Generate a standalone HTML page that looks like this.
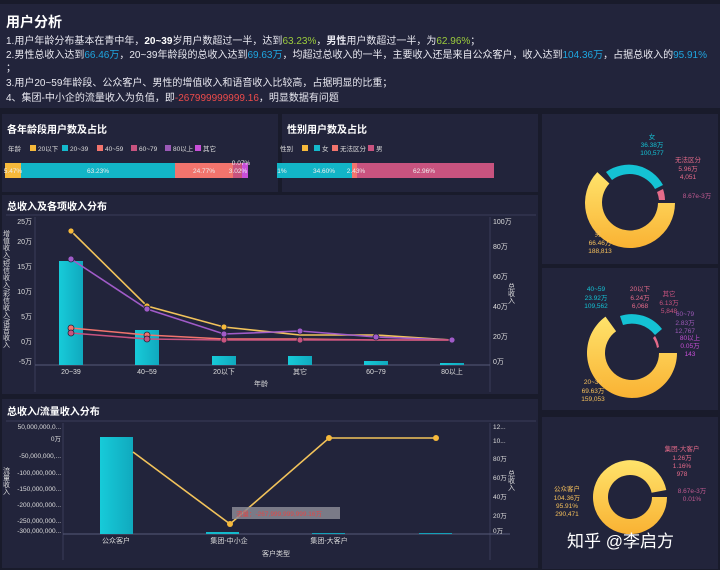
<!DOCTYPE html>
<html><head><meta charset="utf-8">
<style>
body{margin:0;width:720px;height:570px;background:#191b2b;overflow:hidden;font-family:"Liberation Sans","Noto Sans CJK SC",sans-serif;color:#e8e8f0;position:relative}
.p{position:absolute;background:#22243b}
.t{position:absolute;font-size:10px;font-weight:bold;color:#fff}
.hl{position:absolute;left:6px;font-size:10px;color:#e8e8f0;white-space:nowrap}
.g{color:#9ccc3c}.b{color:#1fa6e0}.r{color:#ee4b4b}
svg{position:absolute;left:0;top:0}
</style></head><body>
<div class="p" style="left:0;top:4px;width:720px;height:104px"></div>
<div class="t" style="left:6px;top:12px;font-size:14px">用户分析</div>
<div class="hl" style="top:32px">1.用户年龄分布基本在青中年，<b class="g"><span style="color:#fff">20~39</span></b>岁用户数超过一半，达到<span class="g">63.23%</span>，<b>男性</b>用户数超过一半，为<span class="g">62.96%</span>；</div>
<div class="hl" style="top:46px">2.男性总收入达到<span class="b">66.46万</span>，20~39年龄段的总收入达到<span class="b">69.63万</span>，均超过总收入的一半，主要收入还是来自公众客户，收入达到<span class="b">104.36万</span>，占据总收入的<span class="b">95.91%</span></div>
<div class="hl" style="top:59px">；</div>
<div class="hl" style="top:74px">3.用户20~59年龄段、公众客户、男性的增值收入和语音收入比较高，占据明显的比重；</div>
<div class="hl" style="top:89px">4、集团-中小企的流量收入为负值，即<span class="r">-267999999999.16</span>，明显数据有问题</div>

<div class="p" style="left:2px;top:114px;width:276px;height:78px"></div>
<div class="p" style="left:282px;top:114px;width:256px;height:78px"></div>
<div class="p" style="left:542px;top:114px;width:176px;height:150px"></div>
<div class="p" style="left:542px;top:268px;width:176px;height:142px"></div>
<div class="p" style="left:542px;top:417px;width:176px;height:152px"></div>
<div class="p" style="left:2px;top:195px;width:536px;height:199px"></div>
<div class="p" style="left:2px;top:399px;width:536px;height:169px"></div>

<div class="t" style="left:7px;top:121px">各年龄段用户数及占比</div>
<div class="t" style="left:287px;top:121px">性别用户数及占比</div>
<div class="t" style="left:7px;top:198px">总收入及各项收入分布</div>
<div class="t" style="left:7px;top:403px">总收入/流量收入分布</div>

<svg width="720" height="570" font-family="Liberation Sans, Noto Sans CJK SC, sans-serif">
<!-- legends -->
<g font-size="6.5" fill="#ddd">
<text x="8" y="151">年龄</text>
<rect x="30" y="145" width="6" height="6" fill="#f6b93b"/><text x="38" y="151">20以下</text>
<rect x="62" y="145" width="6" height="6" fill="#14b9cc"/><text x="70" y="151">20~39</text>
<rect x="97" y="145" width="6" height="6" fill="#f2746d"/><text x="105" y="151">40~59</text>
<rect x="131" y="145" width="6" height="6" fill="#c8537f"/><text x="139" y="151">60~79</text>
<rect x="165" y="145" width="6" height="6" fill="#9b59b6"/><text x="173" y="151">80以上</text>
<rect x="195" y="145" width="6" height="6" fill="#c84fd8"/><text x="203" y="151">其它</text>
<text x="280" y="151">性别</text>
<rect x="302" y="145" width="6" height="6" fill="#f6b93b"/>
<rect x="314" y="145" width="6" height="6" fill="#14b9cc"/><text x="322" y="151">女</text>
<rect x="332" y="145" width="6" height="6" fill="#f2746d"/><text x="340" y="151">无法区分</text>
<rect x="368" y="145" width="6" height="6" fill="#c8537f"/><text x="376" y="151">男</text>
</g>
<!-- age bar -->
<rect x="5" y="163" width="16" height="15" fill="#f6b93b"/>
<rect x="21" y="163" width="154" height="15" fill="#12b5c7"/>
<rect x="175" y="163" width="58" height="15" fill="#f2746d"/>
<rect x="233" y="163" width="9" height="15" fill="#c8537f"/>
<rect x="242" y="163" width="6" height="15" fill="#c84fd8"/>
<g font-size="6.5" fill="#eee" text-anchor="middle">
<text x="13" y="173">5.47%</text><text x="98" y="173">63.23%</text><text x="204" y="173">24.77%</text><text x="238" y="173">3.02%</text><text x="241" y="165">0.07%</text>
</g>
<!-- gender bar -->
<rect x="277" y="163" width="75" height="15" fill="#12b5c7"/>
<rect x="352" y="163" width="5" height="15" fill="#f2746d"/>
<rect x="357" y="163" width="137" height="15" fill="#c8537f"/>
<g font-size="6.5" fill="#eee" text-anchor="middle">
<text x="282" y="173">1%</text><text x="324" y="173">34.60%</text><text x="356" y="173">2.43%</text><text x="424" y="173">62.96%</text>
</g>

<defs><linearGradient id="yg" x1="0" y1="0" x2="0" y2="1"><stop offset="0" stop-color="#ffe36b"/><stop offset="1" stop-color="#f9b233"/></linearGradient>
<linearGradient id="cb" x1="0" y1="0" x2="1" y2="0"><stop offset="0" stop-color="#17cbd9"/><stop offset="1" stop-color="#10a9be"/></linearGradient></defs>

<!-- income chart -->
<line x1="6" y1="215" x2="536" y2="215" stroke="#3a3d58"/>
<line x1="35" y1="217" x2="35" y2="392" stroke="#3a3d58"/>
<line x1="490" y1="217" x2="490" y2="392" stroke="#3a3d58"/>
<line x1="35" y1="365" x2="490" y2="365" stroke="#555a78"/>
<g font-size="7" fill="#ddd" text-anchor="end">
<text x="32" y="224">25万</text><text x="32" y="244">20万</text><text x="32" y="269">15万</text><text x="32" y="294">10万</text><text x="32" y="319">5万</text><text x="32" y="344">0万</text><text x="32" y="364">-5万</text>
</g>
<g font-size="7" fill="#ddd">
<text x="493" y="224">100万</text><text x="493" y="249">80万</text><text x="493" y="279">60万</text><text x="493" y="309">40万</text><text x="493" y="339">20万</text><text x="493" y="364">0万</text>
</g>
<g font-size="7" fill="#ddd"><text x="6" y="230" writing-mode="tb">增值收入/短信收入/彩信收入/语音收入</text><text x="511" y="283" writing-mode="tb">总收入</text></g>
<rect x="59" y="261" width="24" height="104" fill="url(#cb)"/>
<rect x="135" y="330" width="24" height="35" fill="url(#cb)"/>
<rect x="212" y="356" width="24" height="9" fill="url(#cb)"/>
<rect x="288" y="356" width="24" height="9" fill="url(#cb)"/>
<rect x="364" y="361" width="24" height="4" fill="url(#cb)"/>
<rect x="440" y="363" width="24" height="2" fill="url(#cb)"/>
<g fill="none" stroke-width="1.6">
<polyline stroke="#f2c35b" points="71,231 147,306 224,327 300,335 376,335 452,340"/>
<polyline stroke="#a05bc8" points="71,259 147,309 224,334 300,331 376,337 452,340"/>
<polyline stroke="#f2746d" points="71,328 147,335 224,339 300,339 376,340 452,340"/>
<polyline stroke="#c8537f" points="71,333 147,339 224,340 300,340 376,340 452,340"/>
</g>
<g stroke="#22243b" stroke-width="0.8">
<circle cx="71" cy="231" r="3" fill="#f6b93b"/><circle cx="147" cy="306" r="3" fill="#f6b93b"/><circle cx="224" cy="327" r="3" fill="#f6b93b"/>
<circle cx="71" cy="259" r="3" fill="#a05bc8"/><circle cx="147" cy="309" r="3" fill="#a05bc8"/><circle cx="224" cy="334" r="3" fill="#a05bc8"/><circle cx="300" cy="331" r="3" fill="#a05bc8"/><circle cx="376" cy="337" r="3" fill="#a05bc8"/><circle cx="452" cy="340" r="3" fill="#a05bc8"/>
<circle cx="71" cy="328" r="3" fill="#f2746d"/><circle cx="147" cy="335" r="3" fill="#f2746d"/><circle cx="71" cy="333" r="3" fill="#c8537f"/><circle cx="147" cy="339" r="3" fill="#c8537f"/><circle cx="224" cy="340" r="3" fill="#c8537f"/><circle cx="300" cy="340" r="3" fill="#c8537f"/>
</g>
<g font-size="7" fill="#ddd" text-anchor="middle">
<text x="71" y="374">20~39</text><text x="147" y="374">40~59</text><text x="224" y="374">20以下</text><text x="300" y="374">其它</text><text x="376" y="374">60~79</text><text x="452" y="374">80以上</text><text x="261" y="386">年龄</text>
</g>

<!-- bottom chart -->
<line x1="6" y1="421" x2="536" y2="421" stroke="#3a3d58"/>
<line x1="63" y1="423" x2="63" y2="560" stroke="#3a3d58"/>
<line x1="490" y1="423" x2="490" y2="560" stroke="#3a3d58"/>
<line x1="63" y1="534" x2="510" y2="534" stroke="#555a78"/>
<g font-size="6.5" fill="#ddd" text-anchor="end">
<text x="61" y="429">50,000,000,0...</text><text x="61" y="441">0万</text><text x="61" y="458">-50,000,000,...</text><text x="61" y="475">-100,000,000...</text><text x="61" y="491">-150,000,000...</text><text x="61" y="507">-200,000,000...</text><text x="61" y="523">-250,000,000...</text><text x="61" y="533">-300,000,000...</text>
</g>
<g font-size="6.5" fill="#ddd">
<text x="493" y="429">12...</text><text x="493" y="443">10...</text><text x="493" y="461">80万</text><text x="493" y="480">60万</text><text x="493" y="499">40万</text><text x="493" y="518">20万</text><text x="493" y="533">0万</text>
</g>
<g font-size="7" fill="#ddd"><text x="6" y="467" writing-mode="tb">流量收入</text><text x="511" y="470" writing-mode="tb">总收入</text></g>
<rect x="100" y="437" width="33" height="97" fill="url(#cb)"/>
<rect x="206" y="532" width="33" height="2" fill="#14b9cc"/>
<rect x="312" y="533" width="33" height="1" fill="#14a0b8"/>
<rect x="419" y="533" width="33" height="1" fill="#14a0b8"/>
<polyline fill="none" stroke="#f2c35b" stroke-width="1.6" points="133,452 230,524 329,438 436,438"/>
<circle cx="230" cy="524" r="3" fill="#f6b93b"/><circle cx="329" cy="438" r="3" fill="#f6b93b"/><circle cx="436" cy="438" r="3" fill="#f6b93b"/>
<rect x="232" y="507" width="108" height="12" fill="#8a8a95" opacity="0.85"/>
<text x="236" y="516" font-size="6.5" fill="#e04848">流量：-267,999,999,999.16万</text>
<g font-size="7" fill="#ddd" text-anchor="middle">
<text x="116" y="543">公众客户</text><text x="229" y="543">集团-中小企</text><text x="329" y="543">集团-大客户</text><text x="276" y="556">客户类型</text>
</g>

<!-- donut 1 -->
<g transform="translate(630,203)">
<path d="M45,0 A45,45 0 1 1 -32.7,-30.9 L-20.6,-19.5 A28,28 0 1 0 28,0 Z" fill="url(#yg)"/>
<path d="M-24,-31 A39,39 0 0 1 33,-18 L25,-14 A29,29 0 0 0 -18,-23 Z" fill="#14c2d4"/>
<path d="M33,-14 A36,36 0 0 1 35,-3 L29,-3 A30,30 0 0 0 27,-11 Z" fill="#e66b8a"/>
</g>
<g font-size="6.5" text-anchor="middle">
<text x="652" y="139" fill="#14c2d4">女</text><text x="652" y="147" fill="#14c2d4">36.38万</text><text x="652" y="155" fill="#14c2d4">100,577</text>
<text x="688" y="162" fill="#e66b8a">无法区分</text><text x="688" y="171" fill="#e66b8a">5.96万</text><text x="688" y="179" fill="#e66b8a">4,051</text>
<text x="697" y="198" fill="#c05a90">8.67e-3万</text>
<text x="598" y="236" fill="#f6c05b">男</text><text x="600" y="245" fill="#f6c05b">66.46万</text><text x="600" y="253" fill="#f6c05b">188,813</text>
</g>
<!-- donut 2 -->
<g transform="translate(632,353)">
<path d="M45,0 A45,45 0 1 1 -26.5,-36.4 L-15.9,-21.8 A27,27 0 1 0 27,0 Z" fill="url(#yg)"/>
<path d="M-12,-37 A38,38 0 0 1 30,-24 L23,-18 A29,29 0 0 0 -9,-28 Z" fill="#14c2d4"/>
<path d="M23,-17 A30,30 0 0 1 27,-6 L25,-5 A27,27 0 0 0 21,-15 Z" fill="#e66b8a"/>
</g>
<g font-size="6.5" text-anchor="middle">
<text x="596" y="291" fill="#14c2d4">40~59</text><text x="596" y="300" fill="#14c2d4">23.92万</text><text x="596" y="308" fill="#14c2d4">109,562</text>
<text x="640" y="291" fill="#e66b8a">20以下</text><text x="640" y="300" fill="#e66b8a">6.24万</text><text x="640" y="308" fill="#e66b8a">6,068</text>
<text x="669" y="296" fill="#c8537f">其它</text><text x="669" y="305" fill="#c8537f">6.13万</text><text x="669" y="313" fill="#c8537f">5,848</text>
<text x="685" y="316" fill="#9b59b6">60~79</text><text x="685" y="325" fill="#9b59b6">2.83万</text><text x="685" y="333" fill="#9b59b6">12,767</text>
<text x="690" y="340" fill="#c84fd8">80以上</text><text x="690" y="348" fill="#c84fd8">0.05万</text><text x="690" y="356" fill="#c84fd8">143</text>
<text x="593" y="384" fill="#f6c05b">20~39</text><text x="593" y="393" fill="#f6c05b">69.63万</text><text x="593" y="401" fill="#f6c05b">159,053</text>
</g>
<!-- donut 3 -->
<g transform="translate(630,497)">
<path d="M37,0 A37,37 0 1 1 36.3,-7 L21.6,-4.2 A22,22 0 1 0 22,0 Z" fill="url(#yg)"/>
</g>
<g font-size="6.5" text-anchor="middle">
<text x="682" y="451" fill="#e66b8a">集团-大客户</text><text x="682" y="460" fill="#e66b8a">1.26万</text><text x="682" y="468" fill="#e66b8a">1.16%</text><text x="682" y="476" fill="#e66b8a">978</text>
<text x="692" y="493" fill="#c05a90">8.67e-3万</text><text x="692" y="501" fill="#c05a90">0.01%</text>
<text x="567" y="491" fill="#f6c05b">公众客户</text><text x="567" y="500" fill="#f6c05b">104.36万</text><text x="567" y="508" fill="#f6c05b">95.91%</text><text x="567" y="516" fill="#f6c05b">290,471</text>
</g>
<text x="567" y="547" font-size="17" fill="#fff">知乎 @李启方</text>
</svg>
</body></html>
